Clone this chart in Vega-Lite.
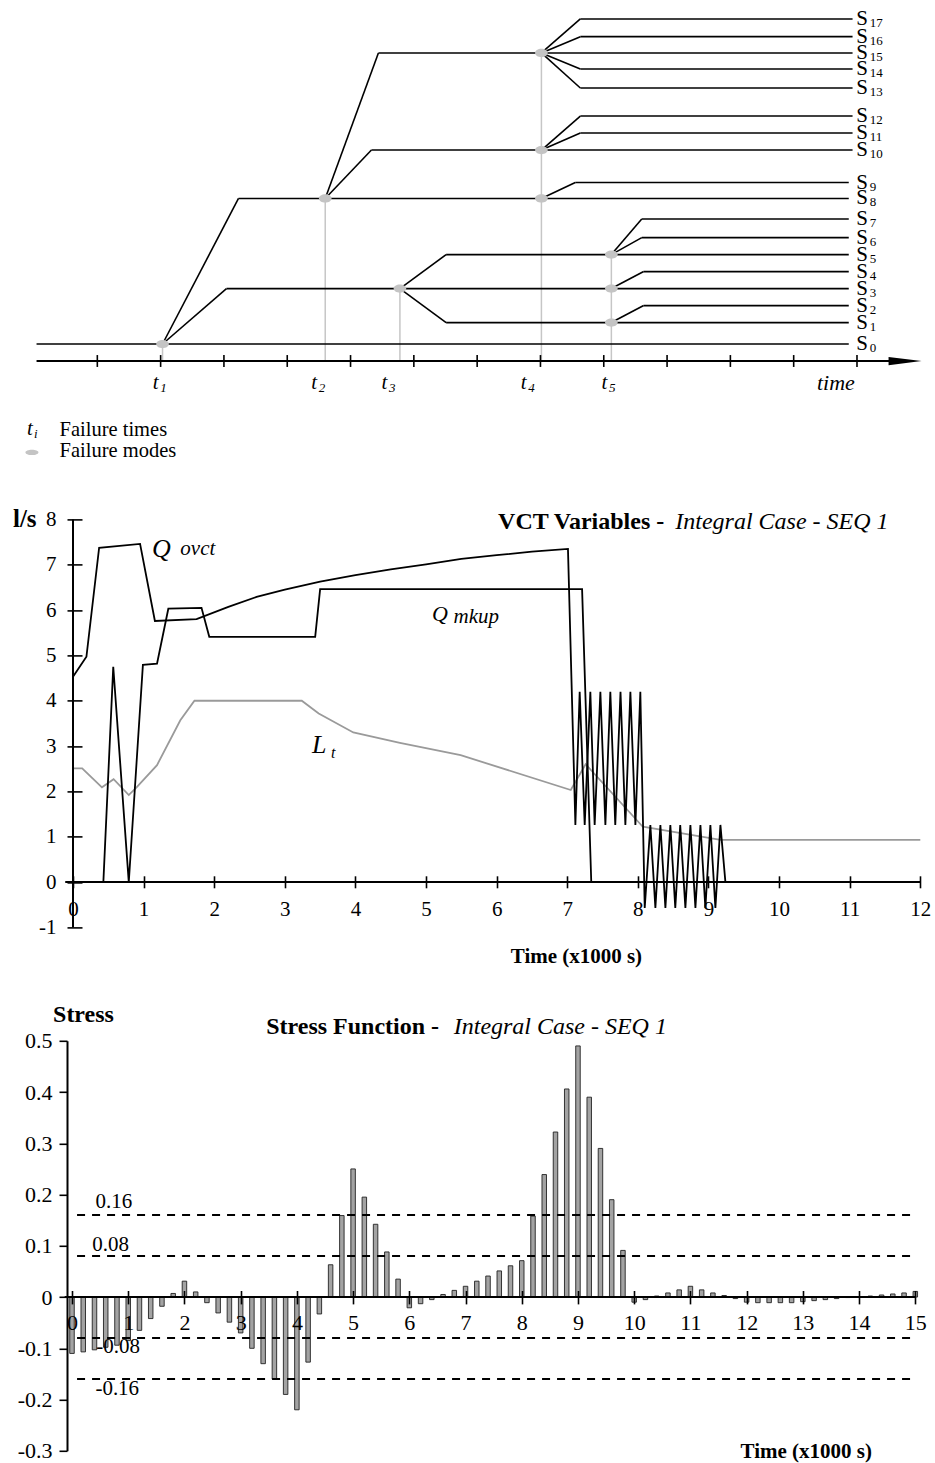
{
  "$schema": "https://vega.github.io/schema/vega-lite/v6.json",
  "padding": {"left": 12, "top": 0, "right": 5, "bottom": 5},
  "background": "white",
  "bounds": "flush",
  "spacing": 113.4,
  "config": {
    "view": {"stroke": null},
    "font": "Liberation Serif",
    "text": {"font": "Liberation Serif", "color": "#000"},
    "axis": {"grid": false, "labelFont": "Liberation Serif", "labelColor": "#000", "tickColor": "#000", "domainColor": "#000", "labelOverlap": false, "labelFlush": false, "labelBound": false}
  },
  "datasets": {
    "tree_segs": [
      {"x1": 0.04, "y1": 0, "x2": 12.87, "y2": 0},
      {"x1": 2.03, "y1": 0, "x2": 3.04, "y2": 3.26},
      {"x1": 3.04, "y1": 3.26, "x2": 12.87, "y2": 3.26},
      {"x1": 2.03, "y1": 0, "x2": 3.23, "y2": 8.56},
      {"x1": 3.23, "y1": 8.56, "x2": 12.87, "y2": 8.56},
      {"x1": 4.6, "y1": 8.56, "x2": 5.44, "y2": 17.12},
      {"x1": 5.44, "y1": 17.12, "x2": 12.93, "y2": 17.12},
      {"x1": 4.6, "y1": 8.56, "x2": 5.33, "y2": 11.41},
      {"x1": 5.33, "y1": 11.41, "x2": 12.93, "y2": 11.41},
      {"x1": 8.015, "y1": 17.12, "x2": 8.63, "y2": 19.12},
      {"x1": 8.63, "y1": 19.12, "x2": 12.93, "y2": 19.12},
      {"x1": 8.015, "y1": 17.12, "x2": 8.63, "y2": 18.08},
      {"x1": 8.63, "y1": 18.08, "x2": 12.93, "y2": 18.08},
      {"x1": 8.015, "y1": 17.12, "x2": 8.63, "y2": 16.18},
      {"x1": 8.63, "y1": 16.18, "x2": 12.93, "y2": 16.18},
      {"x1": 8.015, "y1": 17.12, "x2": 8.63, "y2": 15.06},
      {"x1": 8.63, "y1": 15.06, "x2": 12.93, "y2": 15.06},
      {"x1": 8.015, "y1": 11.41, "x2": 8.63, "y2": 13.41},
      {"x1": 8.63, "y1": 13.41, "x2": 12.93, "y2": 13.41},
      {"x1": 8.015, "y1": 11.41, "x2": 8.63, "y2": 12.41},
      {"x1": 8.63, "y1": 12.41, "x2": 12.93, "y2": 12.41},
      {"x1": 8.015, "y1": 8.56, "x2": 8.55, "y2": 9.5},
      {"x1": 8.55, "y1": 9.5, "x2": 12.87, "y2": 9.5},
      {"x1": 5.78, "y1": 3.26, "x2": 6.51, "y2": 5.26},
      {"x1": 6.51, "y1": 5.26, "x2": 12.87, "y2": 5.26},
      {"x1": 5.78, "y1": 3.26, "x2": 6.51, "y2": 1.26},
      {"x1": 6.51, "y1": 1.26, "x2": 12.87, "y2": 1.26},
      {"x1": 9.12, "y1": 5.26, "x2": 9.6, "y2": 7.35},
      {"x1": 9.6, "y1": 7.35, "x2": 12.87, "y2": 7.35},
      {"x1": 9.12, "y1": 5.26, "x2": 9.6, "y2": 6.26},
      {"x1": 9.6, "y1": 6.26, "x2": 12.87, "y2": 6.26},
      {"x1": 9.12, "y1": 3.26, "x2": 9.63, "y2": 4.26},
      {"x1": 9.63, "y1": 4.26, "x2": 12.87, "y2": 4.26},
      {"x1": 9.12, "y1": 1.26, "x2": 9.63, "y2": 2.26},
      {"x1": 9.63, "y1": 2.26, "x2": 12.87, "y2": 2.26}
    ],
    "tree_vlines": [
      {"u": 2.03, "top": 0},
      {"u": 4.6, "top": 8.56},
      {"u": 5.78, "top": 3.26},
      {"u": 8.015, "top": 17.12},
      {"u": 9.12, "top": 5.26}
    ],
    "tree_nodes": [
      {"u": 2.03, "lvl": 0},
      {"u": 4.6, "lvl": 8.56},
      {"u": 5.78, "lvl": 3.26},
      {"u": 8.015, "lvl": 17.12},
      {"u": 8.015, "lvl": 11.41},
      {"u": 8.015, "lvl": 8.56},
      {"u": 9.12, "lvl": 5.26},
      {"u": 9.12, "lvl": 3.26},
      {"u": 9.12, "lvl": 1.26}
    ],
    "tree_ticks": [
      {"u": 1}, {"u": 2}, {"u": 3}, {"u": 4}, {"u": 5}, {"u": 6}, {"u": 7},
      {"u": 8}, {"u": 9}, {"u": 10}, {"u": 11}, {"u": 12}, {"u": 13}
    ],
    "tree_states": [
      {"sub": "17", "lvl": 19.12}, {"sub": "16", "lvl": 18.08}, {"sub": "15", "lvl": 17.12},
      {"sub": "14", "lvl": 16.18}, {"sub": "13", "lvl": 15.06}, {"sub": "12", "lvl": 13.41},
      {"sub": "11", "lvl": 12.41}, {"sub": "10", "lvl": 11.41}, {"sub": "9", "lvl": 9.5},
      {"sub": "8", "lvl": 8.56}, {"sub": "7", "lvl": 7.35}, {"sub": "6", "lvl": 6.26},
      {"sub": "5", "lvl": 5.26}, {"sub": "4", "lvl": 4.26}, {"sub": "3", "lvl": 3.26},
      {"sub": "2", "lvl": 2.26}, {"sub": "1", "lvl": 1.26}, {"sub": "0", "lvl": 0}
    ],
    "tree_times": [
      {"sub": "1", "u": 1.877}, {"sub": "2", "u": 4.381}, {"sub": "3", "u": 5.487},
      {"sub": "4", "u": 7.688}, {"sub": "5", "u": 8.963}
    ],
    "vct": [
      {"series": "Lt", "t": 0, "v": 2.51}, {"series": "Lt", "t": 0.13, "v": 2.51}, {"series": "Lt", "t": 0.41, "v": 2.09},
      {"series": "Lt", "t": 0.575, "v": 2.27}, {"series": "Lt", "t": 0.79, "v": 1.92}, {"series": "Lt", "t": 0.9, "v": 2.09},
      {"series": "Lt", "t": 1.19, "v": 2.58}, {"series": "Lt", "t": 1.52, "v": 3.57}, {"series": "Lt", "t": 1.72, "v": 4.0},
      {"series": "Lt", "t": 3.24, "v": 4.0}, {"series": "Lt", "t": 3.48, "v": 3.72}, {"series": "Lt", "t": 3.97, "v": 3.3},
      {"series": "Lt", "t": 4.63, "v": 3.07}, {"series": "Lt", "t": 5.49, "v": 2.8}, {"series": "Lt", "t": 7.05, "v": 2.03},
      {"series": "Lt", "t": 7.26, "v": 2.6}, {"series": "Lt", "t": 8.07, "v": 1.22}, {"series": "Lt", "t": 9.17, "v": 0.93},
      {"series": "Lt", "t": 12, "v": 0.93},
      {"series": "Qovct", "t": 0, "v": 4.53}, {"series": "Qovct", "t": 0.19, "v": 4.97}, {"series": "Qovct", "t": 0.37, "v": 7.375},
      {"series": "Qovct", "t": 0.95, "v": 7.46}, {"series": "Qovct", "t": 1.16, "v": 5.76}, {"series": "Qovct", "t": 1.75, "v": 5.8},
      {"series": "Qovct", "t": 2.2, "v": 6.07}, {"series": "Qovct", "t": 2.6, "v": 6.29}, {"series": "Qovct", "t": 3.0, "v": 6.45},
      {"series": "Qovct", "t": 3.5, "v": 6.63}, {"series": "Qovct", "t": 4.0, "v": 6.77}, {"series": "Qovct", "t": 4.5, "v": 6.9},
      {"series": "Qovct", "t": 5.0, "v": 7.01}, {"series": "Qovct", "t": 5.5, "v": 7.13}, {"series": "Qovct", "t": 6.0, "v": 7.21},
      {"series": "Qovct", "t": 6.5, "v": 7.29}, {"series": "Qovct", "t": 7.01, "v": 7.35}, {"series": "Qovct", "t": 7.115, "v": 1.26},
      {"series": "Qovct", "t": 7.176, "v": 4.2}, {"series": "Qovct", "t": 7.247, "v": 1.26}, {"series": "Qovct", "t": 7.327, "v": 4.2},
      {"series": "Qovct", "t": 7.388, "v": 1.26}, {"series": "Qovct", "t": 7.469, "v": 4.2}, {"series": "Qovct", "t": 7.54, "v": 1.26},
      {"series": "Qovct", "t": 7.61, "v": 4.2}, {"series": "Qovct", "t": 7.68, "v": 1.26}, {"series": "Qovct", "t": 7.754, "v": 4.2},
      {"series": "Qovct", "t": 7.823, "v": 1.26}, {"series": "Qovct", "t": 7.894, "v": 4.2}, {"series": "Qovct", "t": 7.965, "v": 1.26},
      {"series": "Qovct", "t": 8.035, "v": 4.2}, {"series": "Qovct", "t": 8.097, "v": -0.57}, {"series": "Qovct", "t": 8.177, "v": 1.26},
      {"series": "Qovct", "t": 8.248, "v": -0.57}, {"series": "Qovct", "t": 8.319, "v": 1.26}, {"series": "Qovct", "t": 8.39, "v": -0.57},
      {"series": "Qovct", "t": 8.46, "v": 1.26}, {"series": "Qovct", "t": 8.53, "v": -0.57}, {"series": "Qovct", "t": 8.6, "v": 1.26},
      {"series": "Qovct", "t": 8.673, "v": -0.57}, {"series": "Qovct", "t": 8.744, "v": 1.26}, {"series": "Qovct", "t": 8.815, "v": -0.57},
      {"series": "Qovct", "t": 8.886, "v": 1.26}, {"series": "Qovct", "t": 8.956, "v": -0.57}, {"series": "Qovct", "t": 9.027, "v": 1.26},
      {"series": "Qovct", "t": 9.098, "v": -0.57}, {"series": "Qovct", "t": 9.169, "v": 1.26}, {"series": "Qovct", "t": 9.24, "v": 0},
      {"series": "Qmkup", "t": 0, "v": 0}, {"series": "Qmkup", "t": 0.43, "v": 0}, {"series": "Qmkup", "t": 0.57, "v": 4.75},
      {"series": "Qmkup", "t": 0.79, "v": 0}, {"series": "Qmkup", "t": 0.99, "v": 4.79}, {"series": "Qmkup", "t": 1.19, "v": 4.82},
      {"series": "Qmkup", "t": 1.35, "v": 6.03}, {"series": "Qmkup", "t": 1.82, "v": 6.05}, {"series": "Qmkup", "t": 1.93, "v": 5.41},
      {"series": "Qmkup", "t": 3.43, "v": 5.41}, {"series": "Qmkup", "t": 3.5, "v": 6.46}, {"series": "Qmkup", "t": 7.21, "v": 6.46},
      {"series": "Qmkup", "t": 7.34, "v": 0}
    ],
    "stress": [
      {"t": 0.0, "s": -0.11}, {"t": 0.2, "s": -0.107}, {"t": 0.4, "s": -0.103}, {"t": 0.6, "s": -0.098},
      {"t": 0.8, "s": -0.094}, {"t": 1.0, "s": -0.085}, {"t": 1.2, "s": -0.065}, {"t": 1.4, "s": -0.042},
      {"t": 1.6, "s": -0.018}, {"t": 1.8, "s": 0.007}, {"t": 2.0, "s": 0.031}, {"t": 2.2, "s": 0.01},
      {"t": 2.4, "s": -0.011}, {"t": 2.6, "s": -0.031}, {"t": 2.8, "s": -0.049}, {"t": 3.0, "s": -0.07},
      {"t": 3.2, "s": -0.1}, {"t": 3.4, "s": -0.13}, {"t": 3.6, "s": -0.16}, {"t": 3.8, "s": -0.19},
      {"t": 4.0, "s": -0.22}, {"t": 4.2, "s": -0.127}, {"t": 4.4, "s": -0.033}, {"t": 4.6, "s": 0.063},
      {"t": 4.8, "s": 0.159}, {"t": 5.0, "s": 0.25}, {"t": 5.2, "s": 0.195}, {"t": 5.4, "s": 0.142},
      {"t": 5.6, "s": 0.088}, {"t": 5.8, "s": 0.035}, {"t": 6.0, "s": -0.021}, {"t": 6.2, "s": -0.013},
      {"t": 6.4, "s": -0.005}, {"t": 6.6, "s": 0.005}, {"t": 6.8, "s": 0.013}, {"t": 7.0, "s": 0.021},
      {"t": 7.2, "s": 0.031}, {"t": 7.4, "s": 0.041}, {"t": 7.6, "s": 0.051}, {"t": 7.8, "s": 0.061},
      {"t": 8.0, "s": 0.071}, {"t": 8.2, "s": 0.158}, {"t": 8.4, "s": 0.239}, {"t": 8.6, "s": 0.322},
      {"t": 8.8, "s": 0.406}, {"t": 9.0, "s": 0.49}, {"t": 9.2, "s": 0.39}, {"t": 9.4, "s": 0.29},
      {"t": 9.6, "s": 0.19}, {"t": 9.8, "s": 0.091}, {"t": 10.0, "s": -0.01}, {"t": 10.2, "s": -0.005},
      {"t": 10.4, "s": 0.002}, {"t": 10.6, "s": 0.008}, {"t": 10.8, "s": 0.014}, {"t": 11.0, "s": 0.021},
      {"t": 11.2, "s": 0.014}, {"t": 11.4, "s": 0.008}, {"t": 11.6, "s": 0.003}, {"t": 11.8, "s": -0.003},
      {"t": 12.0, "s": -0.01}, {"t": 12.2, "s": -0.011}, {"t": 12.4, "s": -0.011}, {"t": 12.6, "s": -0.011},
      {"t": 12.8, "s": -0.011}, {"t": 13.0, "s": -0.009}, {"t": 13.2, "s": -0.007}, {"t": 13.4, "s": -0.005},
      {"t": 13.6, "s": -0.003}, {"t": 13.8, "s": -0.001}, {"t": 14.0, "s": 0.0}, {"t": 14.2, "s": 0.002},
      {"t": 14.4, "s": 0.004}, {"t": 14.6, "s": 0.006}, {"t": 14.8, "s": 0.008}, {"t": 15.0, "s": 0.011}
    ],
    "thresholds": [{"v": 0.16}, {"v": 0.08}, {"v": -0.08}, {"v": -0.16}],
    "threshold_labels": [
      {"label": "0.16", "x": 0.745, "y": 0.1855},
      {"label": "0.08", "x": 0.687, "y": 0.101},
      {"label": "-0.08", "x": 0.819, "y": -0.0977},
      {"label": "-0.16", "x": 0.805, "y": -0.179}
    ]
  },
  "vconcat": [
    {
      "width": 853.3,
      "height": 405.9,
      "layer": [
        {
          "data": {"name": "tree_vlines"},
          "mark": {"type": "rule", "color": "#c6c6c6", "strokeWidth": 1.5},
          "encoding": {
            "x": {"field": "u", "type": "quantitative", "scale": {"domain": [0.521, 14.0], "nice": false, "zero": false}, "axis": null},
            "y": {"field": "top", "type": "quantitative", "scale": {"domain": [-3.641, 20.235], "nice": false, "zero": false}, "axis": null},
            "y2": {"datum": -1}
          }
        },
        {
          "data": {"name": "tree_segs"},
          "mark": {"type": "rule", "color": "#000", "strokeWidth": 1.6},
          "encoding": {
            "x": {"field": "x1", "type": "quantitative", "scale": {"domain": [0.521, 14.0], "nice": false, "zero": false}, "axis": null},
            "y": {"field": "y1", "type": "quantitative", "scale": {"domain": [-3.641, 20.235], "nice": false, "zero": false}, "axis": null},
            "x2": {"field": "x2"},
            "y2": {"field": "y2"}
          }
        },
        {
          "data": {"values": [{}]},
          "mark": {"type": "rule", "color": "#000", "strokeWidth": 2.2},
          "encoding": {
            "x": {"datum": 0.04, "type": "quantitative", "scale": {"domain": [0.521, 14.0], "nice": false, "zero": false}, "axis": null},
            "x2": {"datum": 13.55},
            "y": {"datum": -1, "type": "quantitative", "scale": {"domain": [-3.641, 20.235], "nice": false, "zero": false}, "axis": null}
          }
        },
        {
          "data": {"name": "tree_ticks"},
          "mark": {"type": "rule", "color": "#000", "strokeWidth": 1.6},
          "encoding": {
            "x": {"field": "u", "type": "quantitative", "scale": {"domain": [0.521, 14.0], "nice": false, "zero": false}, "axis": null},
            "y": {"datum": -0.65, "type": "quantitative", "scale": {"domain": [-3.641, 20.235], "nice": false, "zero": false}, "axis": null},
            "y2": {"datum": -1.35}
          }
        },
        {
          "data": {"values": [{}]},
          "mark": {"type": "point", "shape": "M-1,-0.25L1,0L-1,0.25Z", "filled": true, "color": "#000", "opacity": 1, "size": 1089},
          "encoding": {
            "x": {"datum": 13.759, "type": "quantitative", "scale": {"domain": [0.521, 14.0], "nice": false, "zero": false}, "axis": null},
            "y": {"datum": -1, "type": "quantitative", "scale": {"domain": [-3.641, 20.235], "nice": false, "zero": false}, "axis": null}
          }
        },
        {
          "data": {"name": "tree_nodes"},
          "mark": {"type": "point", "shape": "M-1,0A1,0.65,0,1,0,1,0A1,0.65,0,1,0,-1,0Z", "filled": true, "color": "#c4c4c4", "opacity": 1, "size": 160},
          "encoding": {
            "x": {"field": "u", "type": "quantitative", "scale": {"domain": [0.521, 14.0], "nice": false, "zero": false}, "axis": null},
            "y": {"field": "lvl", "type": "quantitative", "scale": {"domain": [-3.641, 20.235], "nice": false, "zero": false}, "axis": null}
          }
        },
        {
          "data": {"name": "tree_states"},
          "mark": {"type": "text", "text": "S", "align": "left", "baseline": "middle", "fontSize": 21},
          "encoding": {
            "x": {"datum": 12.99, "type": "quantitative", "scale": {"domain": [0.521, 14.0], "nice": false, "zero": false}, "axis": null},
            "y": {"field": "lvl", "type": "quantitative", "scale": {"domain": [-3.641, 20.235], "nice": false, "zero": false}, "axis": null}
          }
        },
        {
          "data": {"name": "tree_states"},
          "mark": {"type": "text", "align": "left", "baseline": "middle", "fontSize": 13, "dx": 13.5, "dy": 4},
          "encoding": {
            "x": {"datum": 12.99, "type": "quantitative", "scale": {"domain": [0.521, 14.0], "nice": false, "zero": false}, "axis": null},
            "y": {"field": "lvl", "type": "quantitative", "scale": {"domain": [-3.641, 20.235], "nice": false, "zero": false}, "axis": null},
            "text": {"field": "sub"}
          }
        },
        {
          "data": {"name": "tree_times"},
          "mark": {"type": "text", "text": "t", "align": "left", "baseline": "middle", "fontSize": 21, "fontStyle": "italic"},
          "encoding": {
            "x": {"field": "u", "type": "quantitative", "scale": {"domain": [0.521, 14.0], "nice": false, "zero": false}, "axis": null},
            "y": {"datum": -2.29, "type": "quantitative", "scale": {"domain": [-3.641, 20.235], "nice": false, "zero": false}, "axis": null}
          }
        },
        {
          "data": {"name": "tree_times"},
          "mark": {"type": "text", "align": "left", "baseline": "middle", "fontSize": 13, "fontStyle": "italic", "dx": 7.5, "dy": 5},
          "encoding": {
            "x": {"field": "u", "type": "quantitative", "scale": {"domain": [0.521, 14.0], "nice": false, "zero": false}, "axis": null},
            "y": {"datum": -2.29, "type": "quantitative", "scale": {"domain": [-3.641, 20.235], "nice": false, "zero": false}, "axis": null},
            "text": {"field": "sub"}
          }
        },
        {
          "data": {"values": [{}]},
          "mark": {"type": "text", "text": "time", "align": "left", "baseline": "middle", "fontSize": 22, "fontStyle": "italic"},
          "encoding": {
            "x": {"datum": 12.367, "type": "quantitative", "scale": {"domain": [0.521, 14.0], "nice": false, "zero": false}, "axis": null},
            "y": {"datum": -2.29, "type": "quantitative", "scale": {"domain": [-3.641, 20.235], "nice": false, "zero": false}, "axis": null}
          }
        },
        {
          "data": {"values": [{}]},
          "mark": {"type": "text", "text": "t", "align": "left", "baseline": "alphabetic", "fontSize": 21, "fontStyle": "italic"},
          "encoding": {
            "x": {"datum": -0.111, "type": "quantitative", "scale": {"domain": [0.521, 14.0], "nice": false, "zero": false}, "axis": null},
            "y": {"datum": -5.35, "type": "quantitative", "scale": {"domain": [-3.641, 20.235], "nice": false, "zero": false}, "axis": null}
          }
        },
        {
          "data": {"values": [{}]},
          "mark": {"type": "text", "text": "i", "align": "left", "baseline": "alphabetic", "fontSize": 13, "fontStyle": "italic", "dx": 7, "dy": 3},
          "encoding": {
            "x": {"datum": -0.111, "type": "quantitative", "scale": {"domain": [0.521, 14.0], "nice": false, "zero": false}, "axis": null},
            "y": {"datum": -5.35, "type": "quantitative", "scale": {"domain": [-3.641, 20.235], "nice": false, "zero": false}, "axis": null}
          }
        },
        {
          "data": {"values": [{}]},
          "mark": {"type": "text", "text": "Failure times", "align": "left", "baseline": "alphabetic", "fontSize": 20.5},
          "encoding": {
            "x": {"datum": 0.404, "type": "quantitative", "scale": {"domain": [0.521, 14.0], "nice": false, "zero": false}, "axis": null},
            "y": {"datum": -5.41, "type": "quantitative", "scale": {"domain": [-3.641, 20.235], "nice": false, "zero": false}, "axis": null}
          }
        },
        {
          "data": {"values": [{}]},
          "mark": {"type": "text", "text": "Failure modes", "align": "left", "baseline": "alphabetic", "fontSize": 20.5},
          "encoding": {
            "x": {"datum": 0.404, "type": "quantitative", "scale": {"domain": [0.521, 14.0], "nice": false, "zero": false}, "axis": null},
            "y": {"datum": -6.63, "type": "quantitative", "scale": {"domain": [-3.641, 20.235], "nice": false, "zero": false}, "axis": null}
          }
        },
        {
          "data": {"values": [{}]},
          "mark": {"type": "point", "shape": "M-1,0A1,0.4,0,1,0,1,0A1,0.4,0,1,0,-1,0Z", "filled": true, "color": "#c4c4c4", "opacity": 1, "size": 169},
          "encoding": {
            "x": {"datum": -0.033, "type": "quantitative", "scale": {"domain": [0.521, 14.0], "nice": false, "zero": false}, "axis": null},
            "y": {"datum": -6.38, "type": "quantitative", "scale": {"domain": [-3.641, 20.235], "nice": false, "zero": false}, "axis": null}
          }
        }
      ]
    },
    {
      "width": 853.3,
      "height": 408,
      "layer": [
        {
          "data": {"name": "vct"},
          "mark": {"type": "line", "strokeWidth": 1.8},
          "encoding": {
            "x": {"field": "t", "type": "quantitative", "scale": {"domain": [-0.085, 12], "nice": false, "zero": false},
              "axis": {"orient": "bottom", "values": [0,1,2,3,4,5,6,7,8,9,10,11,12], "offset": -51.6, "tickSize": 12, "tickWidth": 1.6, "domain": false, "labelFontSize": 21, "labelPadding": 11, "title": null, "zindex": 1}},
            "y": {"field": "v", "type": "quantitative", "scale": {"domain": [-1, 8], "nice": false, "zero": false},
              "axis": {"orient": "left", "values": [-1,0,1,2,3,4,5,6,7,8], "offset": -15, "tickSize": 15, "tickWidth": 1.6, "domain": false, "labelFontSize": 21, "labelPadding": 11, "labelExpr": "replace(datum.label, '\u2212', '-')", "title": null, "zindex": 1}},
            "color": {"field": "series", "type": "nominal", "scale": {"domain": ["Lt", "Qovct", "Qmkup"], "range": ["#9a9a9a", "#000000", "#000000"]}, "legend": null}
          }
        },
        {
          "data": {"values": [{}]},
          "mark": {"type": "rule", "color": "#000", "strokeWidth": 2},
          "encoding": {
            "x": {"datum": 0, "type": "quantitative", "scale": {"domain": [-0.085, 12], "nice": false, "zero": false},
              "axis": {"orient": "bottom", "values": [0,1,2,3,4,5,6,7,8,9,10,11,12], "offset": -51.6, "tickSize": 12, "tickWidth": 1.6, "domain": false, "labelFontSize": 21, "labelPadding": 11, "title": null, "zindex": 1}},
            "y": {"datum": -1, "type": "quantitative", "scale": {"domain": [-1, 8], "nice": false, "zero": false},
              "axis": {"orient": "left", "values": [-1,0,1,2,3,4,5,6,7,8], "offset": -15, "tickSize": 15, "tickWidth": 1.6, "domain": false, "labelFontSize": 21, "labelPadding": 11, "labelExpr": "replace(datum.label, '\u2212', '-')", "title": null, "zindex": 1}},
            "y2": {"datum": 8}
          }
        },
        {
          "data": {"values": [{}]},
          "mark": {"type": "rule", "color": "#000", "strokeWidth": 2},
          "encoding": {
            "x": {"datum": -0.11, "type": "quantitative", "scale": {"domain": [-0.085, 12], "nice": false, "zero": false},
              "axis": {"orient": "bottom", "values": [0,1,2,3,4,5,6,7,8,9,10,11,12], "offset": -51.6, "tickSize": 12, "tickWidth": 1.6, "domain": false, "labelFontSize": 21, "labelPadding": 11, "title": null, "zindex": 1}},
            "x2": {"datum": 12},
            "y": {"datum": 0, "type": "quantitative", "scale": {"domain": [-1, 8], "nice": false, "zero": false},
              "axis": {"orient": "left", "values": [-1,0,1,2,3,4,5,6,7,8], "offset": -15, "tickSize": 15, "tickWidth": 1.6, "domain": false, "labelFontSize": 21, "labelPadding": 11, "labelExpr": "replace(datum.label, '\u2212', '-')", "title": null, "zindex": 1}}
          }
        },
        {
          "data": {"values": [{"txt": "l/s", "x": -0.85, "y": 8}]},
          "mark": {"type": "text", "align": "left", "baseline": "middle", "fontWeight": "bold", "fontSize": 25},
          "encoding": {
            "x": {"field": "x", "type": "quantitative", "scale": {"domain": [-0.085, 12], "nice": false, "zero": false},
              "axis": {"orient": "bottom", "values": [0,1,2,3,4,5,6,7,8,9,10,11,12], "offset": -51.6, "tickSize": 12, "tickWidth": 1.6, "domain": false, "labelFontSize": 21, "labelPadding": 11, "title": null, "zindex": 1}},
            "y": {"field": "y", "type": "quantitative", "scale": {"domain": [-1, 8], "nice": false, "zero": false},
              "axis": {"orient": "left", "values": [-1,0,1,2,3,4,5,6,7,8], "offset": -15, "tickSize": 15, "tickWidth": 1.6, "domain": false, "labelFontSize": 21, "labelPadding": 11, "labelExpr": "replace(datum.label, '\u2212', '-')", "title": null, "zindex": 1}},
            "text": {"field": "txt"}
          }
        },
        {
          "data": {"values": [{"txt": "VCT Variables -", "x": 6.02, "y": 7.94}]},
          "mark": {"type": "text", "align": "left", "baseline": "middle", "fontWeight": "bold", "fontSize": 24},
          "encoding": {
            "x": {"field": "x", "type": "quantitative", "scale": {"domain": [-0.085, 12], "nice": false, "zero": false},
              "axis": {"orient": "bottom", "values": [0,1,2,3,4,5,6,7,8,9,10,11,12], "offset": -51.6, "tickSize": 12, "tickWidth": 1.6, "domain": false, "labelFontSize": 21, "labelPadding": 11, "title": null, "zindex": 1}},
            "y": {"field": "y", "type": "quantitative", "scale": {"domain": [-1, 8], "nice": false, "zero": false},
              "axis": {"orient": "left", "values": [-1,0,1,2,3,4,5,6,7,8], "offset": -15, "tickSize": 15, "tickWidth": 1.6, "domain": false, "labelFontSize": 21, "labelPadding": 11, "labelExpr": "replace(datum.label, '\u2212', '-')", "title": null, "zindex": 1}},
            "text": {"field": "txt"}
          }
        },
        {
          "data": {"values": [{"txt": "Time (x1000 s)", "x": 7.13, "y": -1.65}]},
          "mark": {"type": "text", "align": "center", "baseline": "middle", "fontWeight": "bold", "fontSize": 21},
          "encoding": {
            "x": {"field": "x", "type": "quantitative", "scale": {"domain": [-0.085, 12], "nice": false, "zero": false},
              "axis": {"orient": "bottom", "values": [0,1,2,3,4,5,6,7,8,9,10,11,12], "offset": -51.6, "tickSize": 12, "tickWidth": 1.6, "domain": false, "labelFontSize": 21, "labelPadding": 11, "title": null, "zindex": 1}},
            "y": {"field": "y", "type": "quantitative", "scale": {"domain": [-1, 8], "nice": false, "zero": false},
              "axis": {"orient": "left", "values": [-1,0,1,2,3,4,5,6,7,8], "offset": -15, "tickSize": 15, "tickWidth": 1.6, "domain": false, "labelFontSize": 21, "labelPadding": 11, "labelExpr": "replace(datum.label, '\u2212', '-')", "title": null, "zindex": 1}},
            "text": {"field": "txt"}
          }
        },
        {
          "data": {"values": [{"txt": "Integral Case - SEQ  1", "x": 8.53, "y": 7.94}]},
          "mark": {"type": "text", "align": "left", "baseline": "middle", "fontStyle": "italic", "fontSize": 24},
          "encoding": {
            "x": {"field": "x", "type": "quantitative", "scale": {"domain": [-0.085, 12], "nice": false, "zero": false},
              "axis": {"orient": "bottom", "values": [0,1,2,3,4,5,6,7,8,9,10,11,12], "offset": -51.6, "tickSize": 12, "tickWidth": 1.6, "domain": false, "labelFontSize": 21, "labelPadding": 11, "title": null, "zindex": 1}},
            "y": {"field": "y", "type": "quantitative", "scale": {"domain": [-1, 8], "nice": false, "zero": false},
              "axis": {"orient": "left", "values": [-1,0,1,2,3,4,5,6,7,8], "offset": -15, "tickSize": 15, "tickWidth": 1.6, "domain": false, "labelFontSize": 21, "labelPadding": 11, "labelExpr": "replace(datum.label, '\u2212', '-')", "title": null, "zindex": 1}},
            "text": {"field": "txt"}
          }
        },
        {
          "data": {"values": [{"txt": "Q", "x": 1.119, "y": 7.17}, {"txt": "L", "x": 3.385, "y": 2.84}]},
          "mark": {"type": "text", "align": "left", "baseline": "alphabetic", "fontStyle": "italic", "fontSize": 26},
          "encoding": {
            "x": {"field": "x", "type": "quantitative", "scale": {"domain": [-0.085, 12], "nice": false, "zero": false},
              "axis": {"orient": "bottom", "values": [0,1,2,3,4,5,6,7,8,9,10,11,12], "offset": -51.6, "tickSize": 12, "tickWidth": 1.6, "domain": false, "labelFontSize": 21, "labelPadding": 11, "title": null, "zindex": 1}},
            "y": {"field": "y", "type": "quantitative", "scale": {"domain": [-1, 8], "nice": false, "zero": false},
              "axis": {"orient": "left", "values": [-1,0,1,2,3,4,5,6,7,8], "offset": -15, "tickSize": 15, "tickWidth": 1.6, "domain": false, "labelFontSize": 21, "labelPadding": 11, "labelExpr": "replace(datum.label, '\u2212', '-')", "title": null, "zindex": 1}},
            "text": {"field": "txt"}
          }
        },
        {
          "data": {"values": [{"txt": "Q", "x": 5.085, "y": 5.75}]},
          "mark": {"type": "text", "align": "left", "baseline": "alphabetic", "fontStyle": "italic", "fontSize": 22},
          "encoding": {
            "x": {"field": "x", "type": "quantitative", "scale": {"domain": [-0.085, 12], "nice": false, "zero": false},
              "axis": {"orient": "bottom", "values": [0,1,2,3,4,5,6,7,8,9,10,11,12], "offset": -51.6, "tickSize": 12, "tickWidth": 1.6, "domain": false, "labelFontSize": 21, "labelPadding": 11, "title": null, "zindex": 1}},
            "y": {"field": "y", "type": "quantitative", "scale": {"domain": [-1, 8], "nice": false, "zero": false},
              "axis": {"orient": "left", "values": [-1,0,1,2,3,4,5,6,7,8], "offset": -15, "tickSize": 15, "tickWidth": 1.6, "domain": false, "labelFontSize": 21, "labelPadding": 11, "labelExpr": "replace(datum.label, '\u2212', '-')", "title": null, "zindex": 1}},
            "text": {"field": "txt"}
          }
        },
        {
          "data": {"values": [{"txt": "ovct", "x": 1.52, "y": 7.22}, {"txt": "mkup", "x": 5.39, "y": 5.72}]},
          "mark": {"type": "text", "align": "left", "baseline": "alphabetic", "fontStyle": "italic", "fontSize": 21},
          "encoding": {
            "x": {"field": "x", "type": "quantitative", "scale": {"domain": [-0.085, 12], "nice": false, "zero": false},
              "axis": {"orient": "bottom", "values": [0,1,2,3,4,5,6,7,8,9,10,11,12], "offset": -51.6, "tickSize": 12, "tickWidth": 1.6, "domain": false, "labelFontSize": 21, "labelPadding": 11, "title": null, "zindex": 1}},
            "y": {"field": "y", "type": "quantitative", "scale": {"domain": [-1, 8], "nice": false, "zero": false},
              "axis": {"orient": "left", "values": [-1,0,1,2,3,4,5,6,7,8], "offset": -15, "tickSize": 15, "tickWidth": 1.6, "domain": false, "labelFontSize": 21, "labelPadding": 11, "labelExpr": "replace(datum.label, '\u2212', '-')", "title": null, "zindex": 1}},
            "text": {"field": "txt"}
          }
        },
        {
          "data": {"values": [{"txt": "t", "x": 3.654, "y": 2.73}]},
          "mark": {"type": "text", "align": "left", "baseline": "alphabetic", "fontStyle": "italic", "fontSize": 16},
          "encoding": {
            "x": {"field": "x", "type": "quantitative", "scale": {"domain": [-0.085, 12], "nice": false, "zero": false},
              "axis": {"orient": "bottom", "values": [0,1,2,3,4,5,6,7,8,9,10,11,12], "offset": -51.6, "tickSize": 12, "tickWidth": 1.6, "domain": false, "labelFontSize": 21, "labelPadding": 11, "title": null, "zindex": 1}},
            "y": {"field": "y", "type": "quantitative", "scale": {"domain": [-1, 8], "nice": false, "zero": false},
              "axis": {"orient": "left", "values": [-1,0,1,2,3,4,5,6,7,8], "offset": -15, "tickSize": 15, "tickWidth": 1.6, "domain": false, "labelFontSize": 21, "labelPadding": 11, "labelExpr": "replace(datum.label, '\u2212', '-')", "title": null, "zindex": 1}},
            "text": {"field": "txt"}
          }
        }
      ]
    },
    {
      "width": 853.3,
      "height": 410,
      "layer": [
        {
          "data": {"name": "stress"},
          "mark": {"type": "bar", "size": 4.5, "fill": "#a3a3a3", "stroke": "#222222", "strokeWidth": 0.9},
          "encoding": {
            "x": {"field": "t", "type": "quantitative", "scale": {"domain": [0, 15], "nice": false, "zero": false},
              "axis": {"orient": "bottom", "values": [0,1,2,3,4,5,6,7,8,9,10,11,12,13,14,15], "offset": -160.3, "tickSize": 13.4, "tickWidth": 1.6, "domain": false, "labelFontSize": 22, "labelPadding": 9, "title": null, "zindex": 1}},
            "y": {"field": "s", "type": "quantitative", "scale": {"domain": [-0.3, 0.5], "nice": false, "zero": false},
              "axis": {"orient": "left", "values": [-0.3,-0.2,-0.1,0,0.1,0.2,0.3,0.4,0.5], "tickSize": 8, "tickWidth": 1.6, "domain": true, "domainWidth": 2, "labelFontSize": 22, "labelPadding": 7, "labelExpr": "replace(format(datum.value, '.1~f'), '\u2212', '-')", "title": null, "zindex": 1}}
          }
        },
        {
          "data": {"name": "thresholds"},
          "mark": {"type": "rule", "color": "#000", "strokeWidth": 2, "strokeDash": [8, 7]},
          "encoding": {
            "x": {"datum": 0.09, "type": "quantitative", "scale": {"domain": [0, 15], "nice": false, "zero": false},
              "axis": {"orient": "bottom", "values": [0,1,2,3,4,5,6,7,8,9,10,11,12,13,14,15], "offset": -160.3, "tickSize": 13.4, "tickWidth": 1.6, "domain": false, "labelFontSize": 22, "labelPadding": 9, "title": null, "zindex": 1}},
            "x2": {"datum": 15},
            "y": {"field": "v", "type": "quantitative", "scale": {"domain": [-0.3, 0.5], "nice": false, "zero": false},
              "axis": {"orient": "left", "values": [-0.3,-0.2,-0.1,0,0.1,0.2,0.3,0.4,0.5], "tickSize": 8, "tickWidth": 1.6, "domain": true, "domainWidth": 2, "labelFontSize": 22, "labelPadding": 7, "labelExpr": "replace(format(datum.value, '.1~f'), '\u2212', '-')", "title": null, "zindex": 1}}
          }
        },
        {
          "data": {"values": [{}]},
          "mark": {"type": "rule", "color": "#000", "strokeWidth": 2},
          "encoding": {
            "x": {"datum": -0.13, "type": "quantitative", "scale": {"domain": [0, 15], "nice": false, "zero": false},
              "axis": {"orient": "bottom", "values": [0,1,2,3,4,5,6,7,8,9,10,11,12,13,14,15], "offset": -160.3, "tickSize": 13.4, "tickWidth": 1.6, "domain": false, "labelFontSize": 22, "labelPadding": 9, "title": null, "zindex": 1}},
            "x2": {"datum": 15},
            "y": {"datum": 0, "type": "quantitative", "scale": {"domain": [-0.3, 0.5], "nice": false, "zero": false},
              "axis": {"orient": "left", "values": [-0.3,-0.2,-0.1,0,0.1,0.2,0.3,0.4,0.5], "tickSize": 8, "tickWidth": 1.6, "domain": true, "domainWidth": 2, "labelFontSize": 22, "labelPadding": 7, "labelExpr": "replace(format(datum.value, '.1~f'), '\u2212', '-')", "title": null, "zindex": 1}}
          }
        },
        {
          "data": {"name": "threshold_labels"},
          "mark": {"type": "text", "align": "center", "baseline": "middle", "fontSize": 21},
          "encoding": {
            "x": {"field": "x", "type": "quantitative", "scale": {"domain": [0, 15], "nice": false, "zero": false},
              "axis": {"orient": "bottom", "values": [0,1,2,3,4,5,6,7,8,9,10,11,12,13,14,15], "offset": -160.3, "tickSize": 13.4, "tickWidth": 1.6, "domain": false, "labelFontSize": 22, "labelPadding": 9, "title": null, "zindex": 1}},
            "y": {"field": "y", "type": "quantitative", "scale": {"domain": [-0.3, 0.5], "nice": false, "zero": false},
              "axis": {"orient": "left", "values": [-0.3,-0.2,-0.1,0,0.1,0.2,0.3,0.4,0.5], "tickSize": 8, "tickWidth": 1.6, "domain": true, "domainWidth": 2, "labelFontSize": 22, "labelPadding": 7, "labelExpr": "replace(format(datum.value, '.1~f'), '\u2212', '-')", "title": null, "zindex": 1}},
            "text": {"field": "label"}
          }
        },
        {
          "data": {"values": [{"txt": "Stress", "x": 0.204, "y": 0.55}]},
          "mark": {"type": "text", "align": "center", "baseline": "middle", "fontWeight": "bold", "fontSize": 24},
          "encoding": {
            "x": {"field": "x", "type": "quantitative", "scale": {"domain": [0, 15], "nice": false, "zero": false},
              "axis": {"orient": "bottom", "values": [0,1,2,3,4,5,6,7,8,9,10,11,12,13,14,15], "offset": -160.3, "tickSize": 13.4, "tickWidth": 1.6, "domain": false, "labelFontSize": 22, "labelPadding": 9, "title": null, "zindex": 1}},
            "y": {"field": "y", "type": "quantitative", "scale": {"domain": [-0.3, 0.5], "nice": false, "zero": false},
              "axis": {"orient": "left", "values": [-0.3,-0.2,-0.1,0,0.1,0.2,0.3,0.4,0.5], "tickSize": 8, "tickWidth": 1.6, "domain": true, "domainWidth": 2, "labelFontSize": 22, "labelPadding": 7, "labelExpr": "replace(format(datum.value, '.1~f'), '\u2212', '-')", "title": null, "zindex": 1}},
            "text": {"field": "txt"}
          }
        },
        {
          "data": {"values": [{"txt": "Time (x1000 s)", "x": 13.06, "y": -0.303}]},
          "mark": {"type": "text", "align": "center", "baseline": "middle", "fontWeight": "bold", "fontSize": 21},
          "encoding": {
            "x": {"field": "x", "type": "quantitative", "scale": {"domain": [0, 15], "nice": false, "zero": false},
              "axis": {"orient": "bottom", "values": [0,1,2,3,4,5,6,7,8,9,10,11,12,13,14,15], "offset": -160.3, "tickSize": 13.4, "tickWidth": 1.6, "domain": false, "labelFontSize": 22, "labelPadding": 9, "title": null, "zindex": 1}},
            "y": {"field": "y", "type": "quantitative", "scale": {"domain": [-0.3, 0.5], "nice": false, "zero": false},
              "axis": {"orient": "left", "values": [-0.3,-0.2,-0.1,0,0.1,0.2,0.3,0.4,0.5], "tickSize": 8, "tickWidth": 1.6, "domain": true, "domainWidth": 2, "labelFontSize": 22, "labelPadding": 7, "labelExpr": "replace(format(datum.value, '.1~f'), '\u2212', '-')", "title": null, "zindex": 1}},
            "text": {"field": "txt"}
          }
        },
        {
          "data": {"values": [{"txt": "Stress Function -", "x": 3.455, "y": 0.526}]},
          "mark": {"type": "text", "align": "left", "baseline": "middle", "fontSize": 24, "fontWeight": "bold"},
          "encoding": {
            "x": {"field": "x", "type": "quantitative", "scale": {"domain": [0, 15], "nice": false, "zero": false},
              "axis": {"orient": "bottom", "values": [0,1,2,3,4,5,6,7,8,9,10,11,12,13,14,15], "offset": -160.3, "tickSize": 13.4, "tickWidth": 1.6, "domain": false, "labelFontSize": 22, "labelPadding": 9, "title": null, "zindex": 1}},
            "y": {"field": "y", "type": "quantitative", "scale": {"domain": [-0.3, 0.5], "nice": false, "zero": false},
              "axis": {"orient": "left", "values": [-0.3,-0.2,-0.1,0,0.1,0.2,0.3,0.4,0.5], "tickSize": 8, "tickWidth": 1.6, "domain": true, "domainWidth": 2, "labelFontSize": 22, "labelPadding": 7, "labelExpr": "replace(format(datum.value, '.1~f'), '\u2212', '-')", "title": null, "zindex": 1}},
            "text": {"field": "txt"}
          }
        },
        {
          "data": {"values": [{"txt": "Integral Case - SEQ  1", "x": 6.79, "y": 0.526}]},
          "mark": {"type": "text", "align": "left", "baseline": "middle", "fontSize": 24, "fontStyle": "italic"},
          "encoding": {
            "x": {"field": "x", "type": "quantitative", "scale": {"domain": [0, 15], "nice": false, "zero": false},
              "axis": {"orient": "bottom", "values": [0,1,2,3,4,5,6,7,8,9,10,11,12,13,14,15], "offset": -160.3, "tickSize": 13.4, "tickWidth": 1.6, "domain": false, "labelFontSize": 22, "labelPadding": 9, "title": null, "zindex": 1}},
            "y": {"field": "y", "type": "quantitative", "scale": {"domain": [-0.3, 0.5], "nice": false, "zero": false},
              "axis": {"orient": "left", "values": [-0.3,-0.2,-0.1,0,0.1,0.2,0.3,0.4,0.5], "tickSize": 8, "tickWidth": 1.6, "domain": true, "domainWidth": 2, "labelFontSize": 22, "labelPadding": 7, "labelExpr": "replace(format(datum.value, '.1~f'), '\u2212', '-')", "title": null, "zindex": 1}},
            "text": {"field": "txt"}
          }
        }
      ]
    }
  ]
}
